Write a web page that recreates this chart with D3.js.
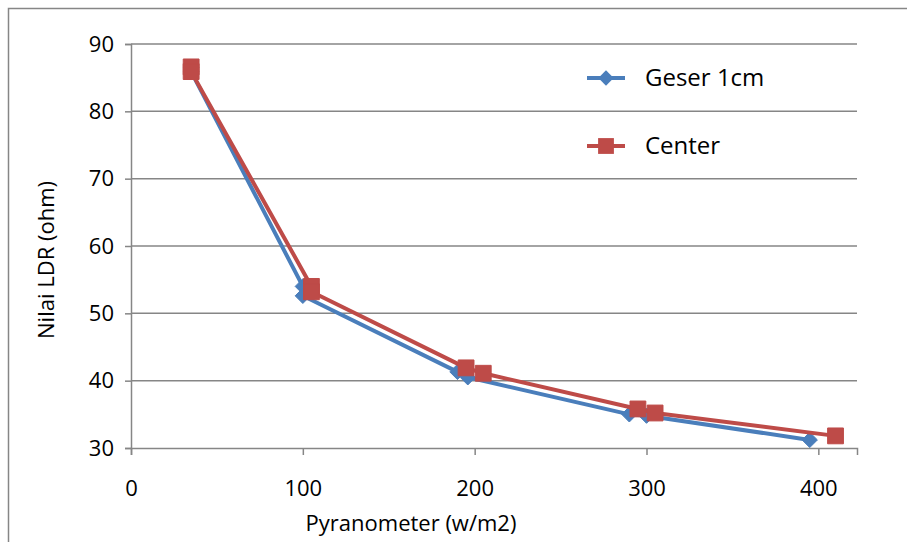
<!DOCTYPE html>
<html>
<head>
<meta charset="utf-8">
<script src="https://cdn.jsdelivr.net/npm/d3@7"></script>
<style>
  body { margin: 0; background: #fff; }
  svg text { font-family: "Liberation Sans Narrow", "Open Sans", sans-serif; fill: #000; }
</style>
</head>
<body>
<div id="chart"></div>
<script>
// Data
const seriesNames = ['Geser 1cm', 'Center'];
const geserX = [35, 35, 100, 100, 190, 196, 290, 300, 395];
const geserY = [86.5, 85.9, 54.0, 52.6, 41.3, 40.5, 35.0, 34.8, 31.2];
const centerX = [35, 35, 105, 105, 195, 205, 295, 305, 410];
const centerY = [86.6, 85.9, 54.0, 53.2, 41.9, 41.1, 35.8, 35.2, 31.8];
const xTicks = [0, 100, 200, 300, 400];
const yTicks = [30, 40, 50, 60, 70, 80, 90];

const width = 907, height = 542;
const plot = {left: 131, right: 857, top: 44, bottom: 448};
const font = '"Liberation Sans Narrow", "Open Sans", sans-serif';

const svg = d3.select('#chart').append('svg')
  .attr('width', width).attr('height', height);

// outer chart frame (cut off on the right/bottom like the reference)
svg.append('rect')
  .attr('x', 8.5).attr('y', 8.5)
  .attr('width', width + 20).attr('height', height + 20)
  .attr('fill', 'none').attr('stroke', '#868686').attr('stroke-width', 1.5);

const x = d3.scaleLinear().domain([0, 422.5]).range([plot.left, plot.right]);
const y = d3.scaleLinear().domain([30, 90]).range([plot.bottom, plot.top]);

// horizontal gridlines
svg.append('g').selectAll('line').data(yTicks.filter(d => d !== 30)).join('line')
  .attr('x1', plot.left).attr('x2', plot.right)
  .attr('y1', d => y(d)).attr('y2', d => y(d))
  .attr('stroke', '#868686').attr('stroke-width', 1.5);

// axes
const yAxis = svg.append('g')
  .attr('transform', 'translate(' + plot.left + ',0)')
  .call(d3.axisLeft(y).tickValues(yTicks).tickSize(6).tickPadding(11));
const xAxis = svg.append('g')
  .attr('transform', 'translate(0,' + plot.bottom + ')')
  .call(d3.axisBottom(x).tickValues(xTicks).tickSize(7).tickPadding(25));

[xAxis, yAxis].forEach(g => {
  g.select('.domain').attr('stroke', '#868686').attr('stroke-width', 1.5);
  g.selectAll('.tick line').attr('stroke', '#868686').attr('stroke-width', 1.5);
  g.selectAll('.tick text').attr('font-size', 22).attr('font-family', font);
});
xAxis.selectAll('.tick text').attr('dy', '0.71em');

// axis titles
svg.append('text')
  .attr('x', 411).attr('y', 531)
  .attr('text-anchor', 'middle').attr('font-size', 22)
  .text('Pyranometer (w/m2)');
svg.append('text')
  .attr('transform', 'translate(54,' + 260 + ') rotate(-90)')
  .attr('text-anchor', 'middle').attr('font-size', 22)
  .text('Nilai LDR (ohm)');

const colors = ['#4A7EBB', '#BE4B48'];
const series = [
  geserX.map((v, i) => [v, geserY[i]]),
  centerX.map((v, i) => [v, centerY[i]])
];

const line = d3.line().x(d => x(d[0])).y(d => y(d[1]));
const diamond = d3.symbol().type(d3.symbolDiamond2).size(150);
const square = d3.symbol().type(d3.symbolSquare).size(250);

series.forEach((pts, i) => {
  svg.append('path').datum(pts)
    .attr('d', line).attr('fill', 'none')
    .attr('stroke', colors[i]).attr('stroke-width', 4)
    .attr('stroke-linejoin', 'round');
  svg.append('g').selectAll('path').data(pts).join('path')
    .attr('transform', d => 'translate(' + x(d[0]) + ',' + y(d[1]) + ')')
    .attr('d', i === 0 ? diamond : square)
    .attr('fill', colors[i]).attr('stroke', colors[i]).attr('stroke-width', 1)
    .attr('stroke-linejoin', 'round');
});

// legend
const legendY = [78, 146];
seriesNames.forEach((name, i) => {
  const g = svg.append('g').attr('transform', 'translate(587,' + legendY[i] + ')');
  g.append('line').attr('x1', 0).attr('x2', 38)
    .attr('stroke', colors[i]).attr('stroke-width', 4);
  g.append('path').attr('transform', 'translate(19,0)')
    .attr('d', i === 0 ? diamond : square).attr('fill', colors[i]);
  g.append('text').attr('x', 58).attr('y', 0).attr('dy', '0.35em')
    .attr('font-size', 24).text(name);
});
</script>
</body>
</html>
